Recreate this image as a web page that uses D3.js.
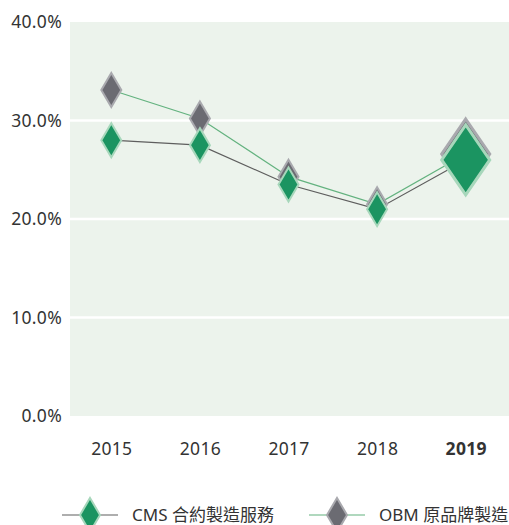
<!DOCTYPE html>
<html>
<head>
<meta charset="utf-8">
<script src="https://cdn.jsdelivr.net/npm/d3@7"></script>
<style>
    body { margin: 0; background: #fff; }
    text { font-family: "Noto Sans", "Noto Sans CJK TC", sans-serif; fill: #333; }
</style>
</head>
<body>
<div id="chart-container"></div>
<script>
// data
const years = ['2015', '2016', '2017', '2018', '2019']
const cmsValues = [0.280, 0.275, 0.235, 0.210, 0.260]
const obmValues = [0.331, 0.302, 0.243, 0.215, 0.266]
const yTicks = [0, 0.1, 0.2, 0.3, 0.4]
const seriesNames = ['CMS 合約製造服務', 'OBM 原品牌製造']

// settings
const width = 509
const height = 525
const plot = { left: 70, right: 509, top: 22, bottom: 416 }

const green = '#1b9461'
const greenEdge = '#a7d7bb'
const grey = '#6b6b72'
const greyEdge = '#a9a9ae'

const svg = d3.select('#chart-container')
    .append('svg')
    .attr('width', width)
    .attr('height', height)

// schalen
const xScale = d3.scalePoint().domain(years).range([67, 510]).padding(0.5)
const yScale = d3.scaleLinear().domain([0, 0.4]).range([plot.bottom, plot.top])

// achtergrond
svg.append('rect')
    .attr('x', plot.left)
    .attr('y', plot.top)
    .attr('width', plot.right - plot.left)
    .attr('height', plot.bottom - plot.top)
    .attr('fill', '#ecf3ec')

// grid lijnen
svg.selectAll('.grid')
    .data(yTicks.filter(d => d > 0 && d < 0.4))
    .enter()
    .append('line')
    .attr('x1', plot.left)
    .attr('x2', plot.right)
    .attr('y1', d => yScale(d))
    .attr('y2', d => yScale(d))
    .attr('stroke', '#fff')
    .attr('stroke-width', 2.5)

// y as
const yAxis = svg.append('g')
    .attr('transform', `translate(${plot.left}, 0)`)
    .call(d3.axisLeft(yScale).tickValues(yTicks).tickFormat(d3.format('.1%')).tickSize(0).tickPadding(8))
yAxis.select('.domain').remove()
yAxis.selectAll('text')
    .attr('font-size', 17.5)
    .attr('fill', '#3a3a3a')
    .attr('letter-spacing', 0.3)
    .style('font-family', '"Noto Sans", sans-serif')

// x as
const xAxis = svg.append('g')
    .attr('transform', `translate(0, ${plot.bottom})`)
    .call(d3.axisBottom(xScale).tickSize(0).tickPadding(27))
xAxis.select('.domain').remove()
xAxis.selectAll('text')
    .attr('font-size', 17.5)
    .attr('fill', d => d === '2019' ? '#222' : '#3a3a3a')
    .attr('font-weight', d => d === '2019' ? 'bold' : 'normal')
    .attr('letter-spacing', 0.3)
    .style('font-family', '"Noto Sans", sans-serif')

// diamant pad
const diamond = (w, h) => `M0,${-h}L${w},0L0,${h}L${-w},0Z`
const sizeOf = (d, i) => years[i] === '2019' ? [24, 35, 3] : [10, 17, 2]

const series = [
    { name: seriesNames[1], values: obmValues, line: '#63b27f', fill: grey, edge: greyEdge },
    { name: seriesNames[0], values: cmsValues, line: '#5e5e5e', fill: green, edge: greenEdge }
]

// lijnen
series.forEach(s => {
    svg.append('path')
        .datum(s.values)
        .attr('fill', 'none')
        .attr('stroke', s.line)
        .attr('stroke-width', 1.2)
        .attr('d', d3.line().x((d, i) => xScale(years[i])).y(d => yScale(d)))
})

// markers
series.forEach(s => {
    svg.append('g')
        .selectAll('path')
        .data(s.values)
        .enter()
        .append('path')
        .attr('transform', (d, i) => `translate(${xScale(years[i])}, ${yScale(d)})`)
        .attr('d', (d, i) => { const z = sizeOf(d, i); return diamond(z[0], z[1]) })
        .attr('fill', s.fill)
        .attr('stroke', s.edge)
        .attr('stroke-width', (d, i) => sizeOf(d, i)[2])
})

// legenda
const legend = [
    { name: seriesNames[0], x: 62, line: '#5e5e5e', fill: green, edge: greenEdge },
    { name: seriesNames[1], x: 309, line: '#63b27f', fill: grey, edge: greyEdge }
]
const legendY = 515
const lg = svg.append('g')
legend.forEach(l => {
    lg.append('line')
        .attr('x1', l.x).attr('x2', l.x + 56)
        .attr('y1', legendY).attr('y2', legendY)
        .attr('stroke', l.line)
        .attr('stroke-width', 1.2)
    lg.append('path')
        .attr('transform', `translate(${l.x + 28}, ${legendY})`)
        .attr('d', diamond(10, 17))
        .attr('fill', l.fill)
        .attr('stroke', l.edge)
        .attr('stroke-width', 2)
    lg.append('text')
        .attr('x', l.x + 70)
        .attr('y', legendY)
        .attr('dy', '0.35em')
        .attr('font-size', 17)
        .attr('fill', '#3a3a3a')
        .style('font-family', '"Noto Sans", "Noto Sans CJK TC", sans-serif')
        .text(l.name)
})
</script>
</body>
</html>
